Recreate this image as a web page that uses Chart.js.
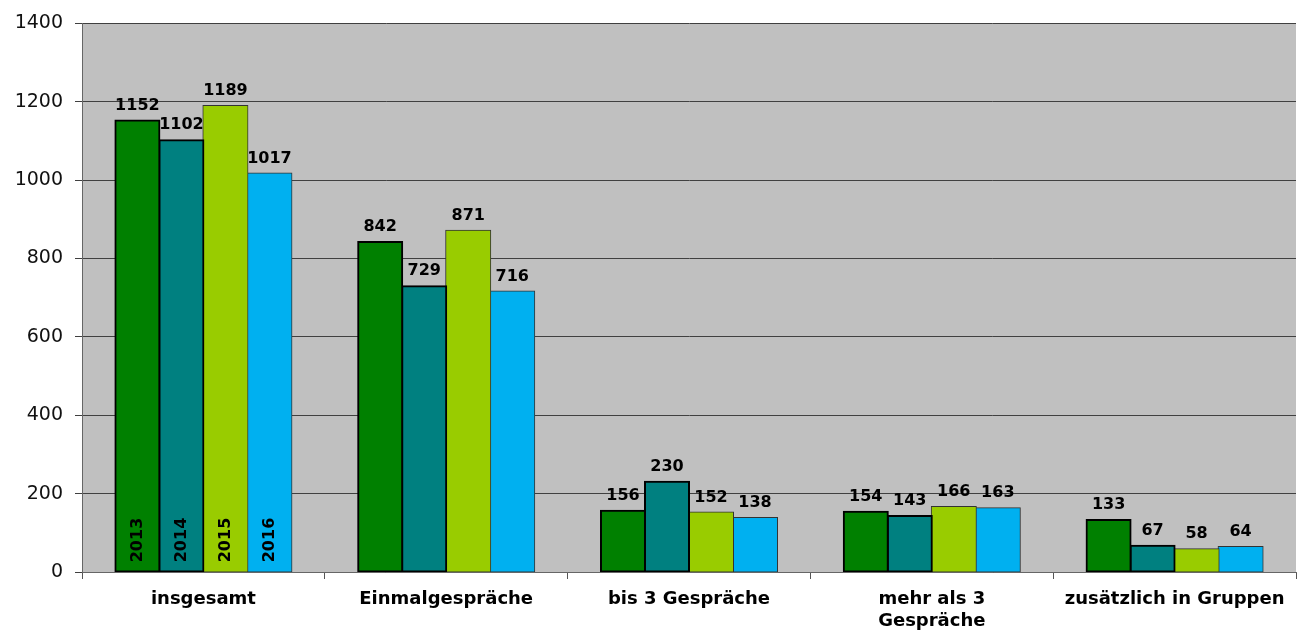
<!DOCTYPE html>
<html>
<head>
<meta charset="utf-8">
<script src="https://cdn.jsdelivr.net/npm/chart.js@4"></script>
<style>
  body { margin: 0; background: #fff; }
  #wrap { width: 1299px; height: 633px; }
</style>
</head>
<body>
<div id="wrap"><canvas id="canvas" width="1299" height="633"></canvas></div>
<script>
const categories = ['insgesamt', 'Einmalgespräche', 'bis 3 Gespräche', ['mehr als 3', 'Gespräche'], 'zusätzlich in Gruppen']
const years = ['2013', '2014', '2015', '2016']
const values2013 = [1152, 842, 156, 154, 133]
const values2014 = [1102, 729, 230, 143, 67]
const values2015 = [1189, 871, 152, 166, 58]
const values2016 = [1017, 716, 138, 163, 64]
const yTicks = [0, 200, 400, 600, 800, 1000, 1200, 1400]

const colors = ['#008000', '#008080', '#99cc00', '#00b0f0']
const borders = ['#000000', '#000000', '#333333', '#333333']
const font = "'DejaVu Sans', sans-serif"

const plotBg = {
    id: 'plotBg',
    beforeDraw: (chart) => {
        const { ctx, chartArea: a } = chart
        ctx.save()
        ctx.fillStyle = '#c0c0c0'
        ctx.fillRect(a.left, a.top, a.right - a.left, a.bottom - a.top)
        ctx.restore()
    }
}

const barLabels = {
    id: 'barLabels',
    afterDatasetsDraw: (chart) => {
        const ctx = chart.ctx
        ctx.save()
        chart.data.datasets.forEach((ds, i) => {
            const meta = chart.getDatasetMeta(i)
            meta.data.forEach((bar, j) => {
                ctx.fillStyle = '#000'
                ctx.font = 'bold 16px ' + font
                ctx.textAlign = 'center'
                ctx.textBaseline = 'bottom'
                ctx.fillText(ds.data[j], bar.x, bar.y - 7)
                if (j === 0) {
                    ctx.save()
                    ctx.translate(bar.x, 540)
                    ctx.rotate(-Math.PI / 2)
                    ctx.textBaseline = 'middle'
                    ctx.fillText(ds.label, 0, 0)
                    ctx.restore()
                }
            })
        })
        ctx.restore()
    }
}

const ctx = document.getElementById('canvas').getContext('2d')
const series = [values2013, values2014, values2015, values2016]

const chart = new Chart(ctx, {
    type: 'bar',
    data: {
        labels: categories,
        datasets: years.map((y, i) => ({
            label: y,
            data: series[i],
            backgroundColor: colors[i],
            borderColor: borders[i],
            borderWidth: i < 2 ? 2 : 1,
            borderSkipped: false,
            inflateAmount: 1,
            categoryPercentage: 0.725,
            barPercentage: 1
        }))
    },
    options: {
        responsive: false,
        animation: false,
        layout: { padding: { top: 22, right: 3, left: 0, bottom: 0 } },
        plugins: {
            legend: { display: false },
            tooltip: { enabled: false }
        },
        scales: {
            x: {
                grid: { display: true, drawOnChartArea: false, offset: true, color: '#555', tickLength: 7 },
                border: { color: '#666', width: 1 },
                ticks: { color: '#000', font: { family: font, size: 18, weight: 'bold', lineHeight: 1.2 }, padding: 10, maxRotation: 0, autoSkip: false },
                afterFit: (s) => { s.height = 61 }
            },
            y: {
                min: 0,
                max: 1400,
                afterBuildTicks: (s) => { s.ticks = yTicks.map(v => ({ value: v })) },
                grid: { color: '#404040', lineWidth: 1, tickLength: 7 },
                border: { color: '#666', width: 1 },
                ticks: { color: '#111', font: { family: font, size: 19 }, padding: 12, callback: (v) => String(v) },
                afterFit: (s) => { s.width = 82 }
            }
        }
    },
    plugins: [plotBg, barLabels]
})
</script>
</body>
</html>
